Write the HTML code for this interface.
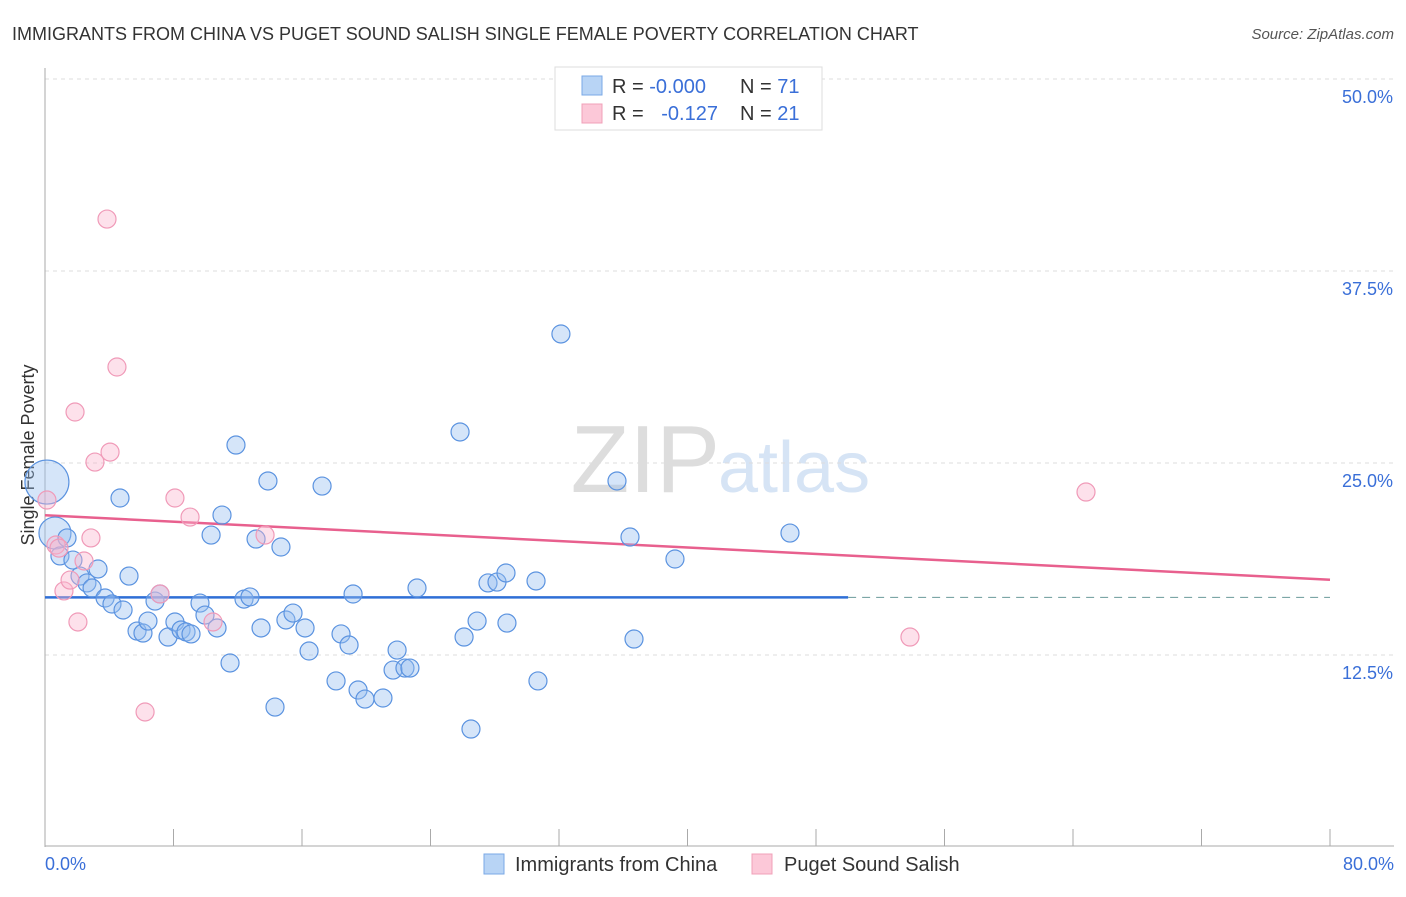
<!DOCTYPE html>
<html><head><meta charset="utf-8"><style>
body{margin:0;background:#fff;font-family:"Liberation Sans",sans-serif;}
svg text{font-family:"Liberation Sans",sans-serif;}
</style></head><body>
<svg id="chart" width="1406" height="892" xmlns="http://www.w3.org/2000/svg">
<text x="12" y="40" font-size="18" fill="#333">IMMIGRANTS FROM CHINA VS PUGET SOUND SALISH SINGLE FEMALE POVERTY CORRELATION CHART</text>
<text x="1394" y="39" font-size="15" fill="#555" font-style="italic" text-anchor="end">Source: ZipAtlas.com</text>
<text x="720" y="492" font-size="96" fill="#ddd" text-anchor="end" font-family="Liberation Serif">ZIP</text>
<text x="718" y="492" font-size="72" fill="#d6e4f5">atlas</text>
<text transform="translate(34,455) rotate(-90)" font-size="18" fill="#333" text-anchor="middle">Single Female Poverty</text>
<g id="grid"></g><g id="axes"></g><g id="trends"></g><g id="pts"></g>
<g>
<rect x="555" y="67" width="267" height="63" fill="#fff" stroke="#ddd"/>
<rect x="582" y="76" width="20" height="19" fill="#b8d4f5" stroke="#7aa8e6"/>
<rect x="582" y="104" width="20" height="19" fill="#fcc8d8" stroke="#f0a0b8"/>
<text x="612" y="93" font-size="20" fill="#333">R = <tspan fill="#3a6fd8">-0.000</tspan></text>
<text x="740" y="93" font-size="20" fill="#333">N = <tspan fill="#3a6fd8">71</tspan></text>
<text x="612" y="120" font-size="20" fill="#333">R = <tspan fill="#3a6fd8" dx="12">-0.127</tspan></text>
<text x="740" y="120" font-size="20" fill="#333">N = <tspan fill="#3a6fd8">21</tspan></text>
</g>
<g>
<rect x="484" y="854" width="20" height="20" fill="#b8d4f5" stroke="#7aa8e6"/>
<text x="515" y="871" font-size="20" fill="#333">Immigrants from China</text>
<rect x="752" y="854" width="20" height="20" fill="#fcc8d8" stroke="#f0a0b8"/>
<text x="784" y="871" font-size="20" fill="#333">Puget Sound Salish</text>
</g>
</svg>
<script>
const chinaX=[0.12,0.62,1.37,0.93,1.74,2.18,2.61,2.93,3.30,3.74,4.17,4.86,5.23,4.67,5.73,6.10,6.41,6.85,7.16,7.66,8.09,8.47,8.78,9.09,9.65,9.96,10.34,10.71,11.02,11.52,11.89,12.39,12.76,13.14,13.45,13.88,14.32,14.69,15.00,15.44,16.19,16.44,17.25,18.12,18.43,18.93,19.18,19.49,19.92,21.04,21.67,21.92,22.41,22.72,23.16,25.84,26.09,26.52,26.90,27.58,28.14,28.70,28.76,30.57,30.69,32.12,35.61,36.42,36.67,39.22,46.38];
const chinaY=[23.76,20.44,20.12,18.95,18.68,17.64,17.19,16.86,18.10,16.21,15.82,15.43,17.64,22.72,14.06,13.93,14.71,16.01,16.47,13.67,14.65,14.13,14.00,13.87,15.88,15.10,20.31,14.26,21.61,11.98,26.17,16.14,16.28,20.05,14.26,23.83,9.11,19.53,14.78,15.23,14.26,12.76,23.50,10.81,13.87,13.15,16.47,10.22,9.63,9.70,11.52,12.82,11.65,11.65,16.86,27.02,13.67,7.68,14.71,17.19,17.25,17.84,14.58,17.32,10.81,33.40,23.83,20.18,13.54,18.75,20.44];
const salishX=[0.12,0.68,0.87,1.18,1.56,1.87,2.05,2.43,2.86,3.11,3.86,4.05,4.48,6.23,7.16,8.09,9.03,10.46,13.70,53.85,64.81];
const salishY=[22.59,19.66,19.46,16.67,17.38,28.32,14.65,18.62,20.12,25.06,40.88,25.71,31.25,8.79,16.47,22.72,21.48,14.65,20.31,13.67,23.11];
const yTicks=[12.5,25.0,37.5,50.0];
const xTicks=[0,8,16,24,32,40,48,56,64,72,80];
const chinaTrend=[16.25,16.25];
const salishTrend=[21.6,17.4];
const X=v=>45+v/80*1285, Y=v=>847-v/12.5*192;
const NS="http://www.w3.org/2000/svg";
function mk(t,a,p){const e=document.createElementNS(NS,t);for(const k in a)e.setAttribute(k,a[k]);p.appendChild(e);return e;}
const grid=document.getElementById('grid'),axes=document.getElementById('axes'),tr=document.getElementById('trends'),pts=document.getElementById('pts');
yTicks.forEach(v=>{const l=mk('line',{x1:45,x2:1394,y1:Y(v),y2:Y(v),stroke:'#ddd','stroke-dasharray':'4,4'},grid);


const t=mk('text',{x:1393,y:Y(v)+24,'font-size':18,fill:'#3a6fd8','text-anchor':'end'},axes);t.textContent=v.toFixed(1)+'%';

});
const ax=mk('line',{x1:45,x2:45,y1:68,y2:847,stroke:'#aaa'},axes);


const bx=mk('line',{x1:45,x2:1394,y1:846,y2:846,stroke:'#aaa'},axes);


xTicks.forEach(v=>{const l=mk('line',{x1:X(v),x2:X(v),y1:829,y2:846,stroke:'#aaa'},axes);

});
[[0,'start',45],[80,'end',1394]].forEach(([v,a,x])=>{const t=mk('text',{x:x,y:870,'font-size':18,fill:'#3a6fd8','text-anchor':a},axes);t.textContent=v.toFixed(1)+'%';

});
const t1=mk('line',{x1:X(0),x2:X(50),y1:Y(chinaTrend[0]),y2:Y(chinaTrend[0]+(chinaTrend[1]-chinaTrend[0])*50/80),stroke:'#2f6fd6','stroke-width':2.5},tr);


const t2=mk('line',{x1:X(50),x2:X(80),y1:Y(chinaTrend[0]+(chinaTrend[1]-chinaTrend[0])*50/80),y2:Y(chinaTrend[1]),stroke:'#6a9a9a','stroke-dasharray':'8,6'},tr);


const t3=mk('line',{x1:X(0),x2:X(80),y1:Y(salishTrend[0]),y2:Y(salishTrend[1]),stroke:'#e8608e','stroke-width':2.5},tr);


chinaX.forEach((x,i)=>{const r=i==0?22:(i==1?16:9);const c=mk('circle',{cx:X(x),cy:Y(chinaY[i]),r:r,fill:'rgba(150,190,240,0.4)',stroke:'#5b93e0','stroke-width':1.2},pts);

});
salishX.forEach((x,i)=>{const c=mk('circle',{cx:X(x),cy:Y(salishY[i]),r:9,fill:'rgba(250,180,205,0.4)',stroke:'#f09ab8','stroke-width':1.2},pts);

});
</script>
</body></html>
